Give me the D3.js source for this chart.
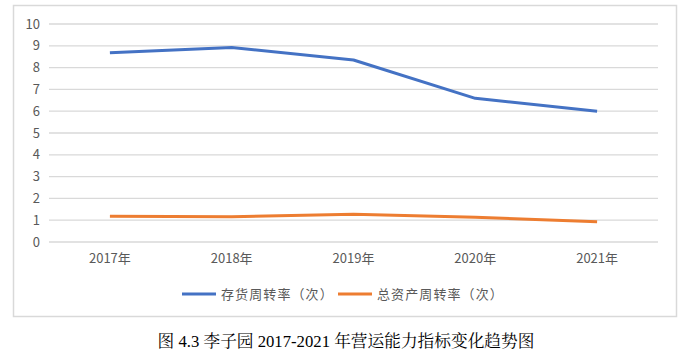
<!DOCTYPE html>
<html><head><meta charset="utf-8">
<script src="https://cdn.jsdelivr.net/npm/d3@7/dist/d3.min.js"></script>
<style>body{margin:0;background:#fff}svg{display:block}</style>
</head><body>
<script>
const categories = ["2017年","2018年","2019年","2020年","2021年"];
const inventoryTurnover = [8.68, 8.92, 8.35, 6.59, 6.00];
const assetTurnover = [1.18, 1.16, 1.27, 1.13, 0.93];
const seriesNames = ["存货周转率（次）","总资产周转率（次）"];
const yTicks = [0,1,2,3,4,5,6,7,8,9,10];
const caption = "图 4.3 李子园 2017-2021 年营运能力指标变化趋势图";

const W = 694, H = 354;
const svg = d3.select("body").append("svg").attr("width", W).attr("height", H);
const fontSans = "'Microsoft YaHei','Noto Sans CJK SC',sans-serif";

svg.append("rect").attr("x", 13.5).attr("y", 5.5).attr("width", 663).attr("height", 311)
  .attr("fill", "#fff").attr("stroke", "#D9D9D9").attr("stroke-width", 1.5);

const x = d3.scaleBand().domain(categories).range([49, 658]);
const y = d3.scaleLinear().domain([0, 10]).range([242, 24]);

const grid = svg.append("g");
grid.selectAll("line").data(yTicks).join("line")
  .attr("x1", 49).attr("x2", 658)
  .attr("y1", d => y(d)).attr("y2", d => y(d))
  .attr("stroke", "#D9D9D9").attr("stroke-width", 1.3);

const yAxis = svg.append("g").attr("transform", "translate(49,0)")
  .call(d3.axisLeft(y).tickValues(yTicks).tickSize(0).tickPadding(9));
yAxis.select(".domain").remove();
yAxis.selectAll("text").attr("fill", "#595959").attr("font-size", 13).attr("font-family", fontSans);

const xAxis = svg.append("g").attr("transform", "translate(0,242)")
  .call(d3.axisBottom(x).tickSize(0).tickPadding(12));
xAxis.select(".domain").remove();
xAxis.selectAll("text").attr("fill", "#595959").attr("font-size", 13).attr("font-family", fontSans);

const line = d3.line().x((d, i) => x(categories[i]) + x.bandwidth() / 2).y(d => y(d));
const colors = ["#4472C4", "#ED7D31"];
[inventoryTurnover, assetTurnover].forEach((s, k) => {
  svg.append("path").datum(s).attr("d", line).attr("fill", "none")
    .attr("stroke", colors[k]).attr("stroke-width", 3).attr("stroke-linejoin", "round");
});

const legendPos = [182, 338];
seriesNames.forEach((n, k) => {
  const g = svg.append("g").attr("transform", `translate(${legendPos[k]},294)`);
  g.append("line").attr("x1", 0).attr("x2", 34).attr("stroke", colors[k]).attr("stroke-width", 3);
  g.append("text").attr("x", 39).attr("y", 0).attr("dy", "0.35em")
    .attr("fill", "#595959").attr("font-size", 13).attr("letter-spacing", 1.1)
    .attr("font-family", fontSans).text(n);
});

svg.append("text").attr("x", 346).attr("y", 347).attr("text-anchor", "middle")
  .attr("font-size", 16.7).attr("fill", "#000")
  .attr("font-family", "'Times New Roman','Liberation Serif','Noto Serif CJK SC','Noto Sans CJK SC',serif")
  .text(caption);
</script>
</body></html>
